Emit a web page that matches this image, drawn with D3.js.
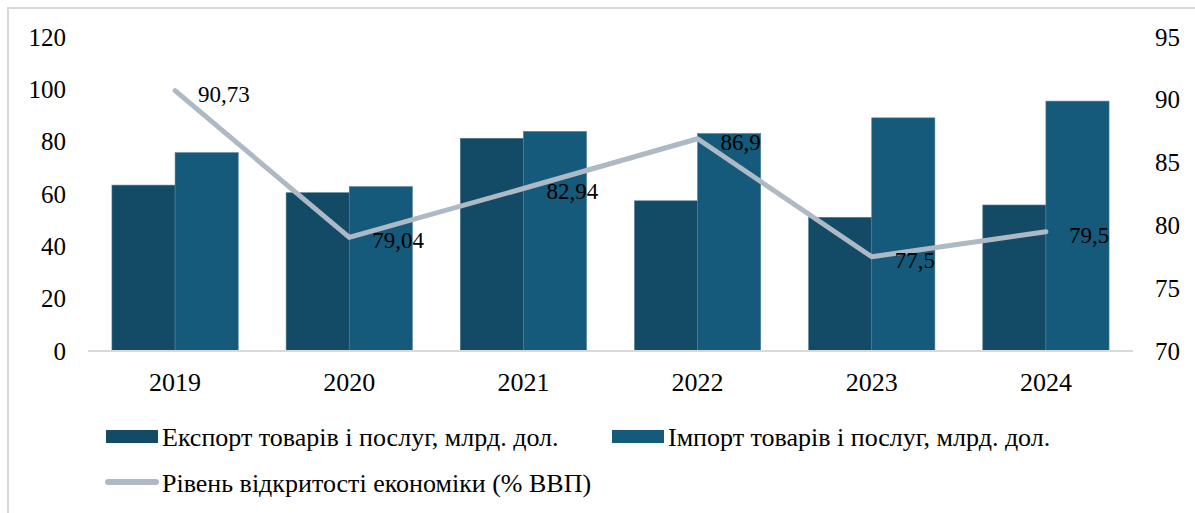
<!DOCTYPE html>
<html>
<head>
<meta charset="utf-8">
<script src="https://cdn.jsdelivr.net/npm/d3@7"></script>
</head>
<body style="margin:0; background:#fff">
<div id="chart"></div>
<script>
var years = ["2019", "2020", "2021", "2022", "2023", "2024"];
var exportVals = [63.4, 60.5, 81.3, 57.4, 51.1, 55.8];
var importVals = [75.8, 62.8, 83.9, 83.1, 89.1, 95.5];
var openness = [90.73, 79.04, 82.94, 86.9, 77.5, 79.5];
var opennessLabels = ["90,73", "79,04", "82,94", "86,9", "77,5", "79,5"];
var leftTicks = [0, 20, 40, 60, 80, 100, 120];
var rightTicks = [70, 75, 80, 85, 90, 95];

var seriesNames = ["Експорт товарів і послуг, млрд. дол.", "Імпорт товарів і послуг, млрд. дол."];
var lineName = "Рівень відкритості економіки (% ВВП)";
var colors = ["#134a66", "#155a7a"];
var lineColor = "#adb9c4";
var serif = "Liberation Serif";

var svgWidth = 1195;
var svgHeight = 513;

var svg = d3.select("#chart")
  .append("svg")
  .attr("width", svgWidth)
  .attr("height", svgHeight)
  .attr("font-family", serif);

// outer frame (only left/top visible)
svg.append("rect")
  .attr("x", 8)
  .attr("y", 8)
  .attr("width", 1200)
  .attr("height", 520)
  .attr("fill", "none")
  .attr("stroke", "#d9d9d9")
  .attr("stroke-width", 2);

var plot = { left: 88, right: 1133, top: 37, bottom: 351 };

var x0 = d3.scaleBand()
  .domain(years)
  .range([plot.left, plot.right])
  .paddingInner(0.275)
  .paddingOuter(0.1375);

var x1 = d3.scaleBand()
  .domain([0, 1])
  .range([0, x0.bandwidth()]);

var yLeft = d3.scaleLinear().domain([0, 120]).range([plot.bottom, plot.top]);
var yRight = d3.scaleLinear().domain([70, 95]).range([plot.bottom, plot.top]);

// bars
var groups = svg.selectAll(".year")
  .data(years)
  .enter()
  .append("g")
  .attr("transform", d => `translate(${x0(d)},0)`);

groups.selectAll("rect")
  .data((d, i) => [exportVals[i], importVals[i]])
  .enter()
  .append("rect")
  .attr("x", (d, j) => x1(j))
  .attr("y", d => yLeft(d))
  .attr("width", x1.bandwidth())
  .attr("height", d => yLeft(0) - yLeft(d))
  .attr("fill", (d, j) => colors[j])
  .attr("stroke", "#4f7f98")
  .attr("stroke-width", 0.6);

// baseline
svg.append("line")
  .attr("x1", plot.left)
  .attr("x2", plot.right)
  .attr("y1", yLeft(0))
  .attr("y2", yLeft(0))
  .attr("stroke", "#d9d9d9")
  .attr("stroke-width", 2);

// axes
function styleAxis(g, size) {
  g.attr("font-family", serif).attr("font-size", size);
  g.select(".domain").remove();
  g.selectAll("text")
    .attr("font-family", serif)
    .style("font-family", serif)
    .style("font-size", size + "px")
    .attr("fill", "#000");
}

var leftAxis = svg.append("g")
  .attr("transform", "translate(66,0)")
  .call(d3.axisLeft(yLeft).tickValues(leftTicks).tickSize(0).tickPadding(0));
styleAxis(leftAxis, 25);

var rightAxis = svg.append("g")
  .attr("transform", "translate(1155,0)")
  .call(d3.axisRight(yRight).tickValues(rightTicks).tickSize(0).tickPadding(0));
styleAxis(rightAxis, 25);

var bottomAxis = svg.append("g")
  .attr("transform", `translate(0,${plot.bottom})`)
  .call(d3.axisBottom(x0).tickSize(0).tickPadding(22));
styleAxis(bottomAxis, 26);

// line
var cx = d => x0(d) + x0.bandwidth() / 2;
var line = d3.line()
  .x((d, i) => cx(years[i]))
  .y(d => yRight(d));

svg.append("path")
  .datum(openness)
  .attr("d", line)
  .attr("fill", "none")
  .attr("stroke", lineColor)
  .attr("stroke-width", 5)
  .attr("stroke-linejoin", "round")
  .attr("stroke-linecap", "round");

svg.selectAll(".lbl")
  .data(openness)
  .enter()
  .append("text")
  .attr("class", "lbl")
  .attr("x", (d, i) => cx(years[i]) + 23)
  .attr("y", d => yRight(d) + 11)
  .attr("font-family", serif)
  .style("font-family", serif)
  .style("font-size", "23px")
  .text((d, i) => opennessLabels[i]);

// legend
var legend = svg.append("g").attr("font-family", serif);
var legendItems = [
  { x: 106, y: 437, kind: "bar", color: colors[0], name: seriesNames[0] },
  { x: 612, y: 437, kind: "bar", color: colors[1], name: seriesNames[1] },
  { x: 106, y: 483, kind: "line", color: lineColor, name: lineName }
];

legendItems.forEach(function(it) {
  if (it.kind === "bar") {
    legend.append("rect")
      .attr("x", it.x)
      .attr("y", it.y - 7)
      .attr("width", 52)
      .attr("height", 13)
      .attr("fill", it.color);
  } else {
    legend.append("line")
      .attr("x1", it.x + 2)
      .attr("x2", it.x + 50)
      .attr("y1", it.y - 1)
      .attr("y2", it.y - 1)
      .attr("stroke", it.color)
      .attr("stroke-width", 6)
      .attr("stroke-linecap", "round");
  }
  legend.append("text")
    .attr("x", it.x + 56)
    .attr("y", it.y + 9)
    .attr("font-family", serif)
    .style("font-family", serif)
    .style("font-size", "26px")
    .text(it.name);
});
</script>
</body>
</html>
